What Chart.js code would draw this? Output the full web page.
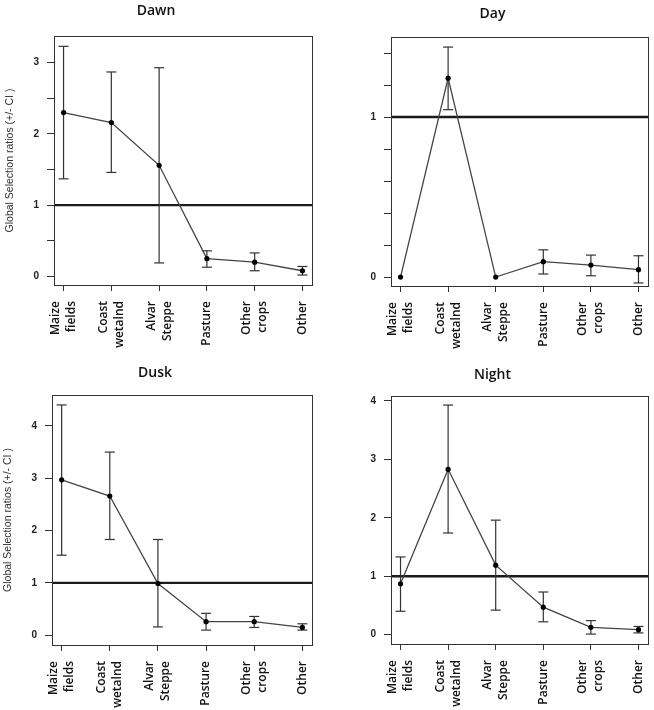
<!DOCTYPE html>
<html>
<head>
<meta charset="utf-8">
<script src="https://cdn.jsdelivr.net/npm/chart.js"></script>
<style>
  html, body { margin: 0; padding: 0; background: #fff; overflow: hidden; }
  body { width: 654px; height: 710px; position: relative; }
  canvas { position: absolute; }
</style>
</head>
<body>
<canvas id="dawn"></canvas>
<canvas id="day"></canvas>
<canvas id="dusk"></canvas>
<canvas id="night"></canvas>
<script>
// habitat categories (two-line labels as in the figure)
const categories = [["Maize", "fields"], ["Coast", "wetalnd"], ["Alvar", "Steppe"], ["Pasture"], ["Other", "crops"], ["Other"]];

// selection ratios and CI bounds
const dawnMean = [2.30, 2.16, 1.56, 0.25, 0.20, 0.08];
const dawnLow  = [1.37, 1.46, 0.19, 0.13, 0.08, 0.02];
const dawnHigh = [3.23, 2.87, 2.93, 0.36, 0.33, 0.14];

const dayMean = [0, 1.243, 0, 0.096, 0.075, 0.046];
const dayLow  = [null, 1.046, null, 0.019, 0.008, -0.037];
const dayHigh = [null, 1.437, null, 0.170, 0.137, 0.133];

const duskMean = [2.97, 2.66, 0.99, 0.26, 0.26, 0.15];
const duskLow  = [1.53, 1.83, 0.16, 0.10, 0.15, 0.10];
const duskHigh = [4.40, 3.50, 1.83, 0.42, 0.36, 0.22];

const nightMean = [0.87, 2.83, 1.19, 0.47, 0.125, 0.085];
const nightLow  = [0.40, 1.74, 0.42, 0.22, 0.01, 0.03];
const nightHigh = [1.33, 3.93, 1.96, 0.73, 0.24, 0.14];

// y tick positions (labels only on whole numbers)
const dawnTicks  = [0, 0.5, 1, 1.5, 2, 2.5, 3];
const dayTicks   = [0, 0.2, 0.4, 0.6, 0.8, 1, 1.2, 1.4];
const duskTicks  = [0, 1, 2, 3, 4];
const nightTicks = [0, 1, 2, 3, 4];

const refValue = 1;
const yTitle = "Global Selection ratios (+/- CI )";
const xMin = -0.2, xMax = 5.2;

function errorBarPoints(low, high) {
    let pts = [];
    low.forEach((lo, i) => {
        if (lo === null) return;
        pts.push({ x: i, y: lo }, { x: i, y: high[i] }, { x: i, y: null });
    });
    return pts;
}

// box around plot + rotated category labels
const framePlugin = {
    id: "frame",
    afterDatasetsDraw(chart) {
        const { ctx, chartArea: a } = chart;
        ctx.save();
        ctx.strokeStyle = "#333";
        ctx.lineWidth = 1;
        ctx.strokeRect(Math.round(a.left) + 0.5, Math.round(a.top) + 0.5,
            Math.round(a.right - a.left), Math.round(a.bottom - a.top));
        ctx.restore();
    },
    afterDraw(chart) {
        const ctx = chart.ctx;
        const xs = chart.scales.x;
        const lh = 16;
        ctx.save();
        ctx.font = "600 12px 'Open Sans'";
        ctx.fillStyle = "#111";
        ctx.textAlign = "right";
        ctx.textBaseline = "middle";
        categories.forEach((lines, i) => {
            const px = xs.getPixelForValue(i);
            lines.forEach((txt, j) => {
                const cx = px + (j - (lines.length - 1) / 2) * lh;
                ctx.save();
                ctx.translate(cx, xs.top + 16);
                ctx.rotate(-Math.PI / 2);
                ctx.fillText(txt, 0, 0);
                ctx.restore();
            });
        });
        ctx.restore();
    }
};

function makePanel(id, p) {
    let canvas = document.getElementById(id);
    canvas.width = p.width;
    canvas.height = 355;
    canvas.style.left = p.left + "px";
    canvas.style.top = p.top + "px";

    new Chart(canvas.getContext("2d"), {
        type: "line",
        data: {
            datasets: [
                {
                    data: p.mean.map((v, i) => ({ x: i, y: v })),
                    borderColor: "#444",
                    borderWidth: 1.3,
                    pointRadius: 2.6,
                    pointBackgroundColor: "#000",
                    pointBorderColor: "#000",
                    pointBorderWidth: 0,
                    order: 0
                },
                {
                    data: errorBarPoints(p.low, p.high),
                    borderColor: "#333",
                    borderWidth: 1.2,
                    pointStyle: "line",
                    pointRadius: 5,
                    pointBorderColor: "#333",
                    pointBorderWidth: 1.2,
                    spanGaps: false,
                    order: 1
                },
                {
                    data: [{ x: xMin, y: refValue }, { x: xMax, y: refValue }],
                    borderColor: "#1a1a1a",
                    borderWidth: 2.3,
                    pointRadius: 0,
                    order: 2
                }
            ]
        },
        options: {
            responsive: false,
            animation: false,
            events: [],
            layout: { padding: { left: 0, right: p.padRight, top: 0, bottom: 0 } },
            plugins: {
                legend: { display: false },
                tooltip: { enabled: false },
                title: {
                    display: true,
                    text: p.title,
                    color: "#111",
                    font: { family: "'Open Sans'", size: 14, weight: "600", lineHeight: 1.2 },
                    padding: { top: p.titleTop, bottom: p.titleBottom }
                }
            },
            scales: {
                x: {
                    type: "linear",
                    min: xMin,
                    max: xMax,
                    afterBuildTicks: axis => { axis.ticks = categories.map((c, i) => ({ value: i })); },
                    afterFit: axis => { axis.height = p.xHeight; },
                    ticks: { display: false },
                    border: { display: false },
                    grid: { drawOnChartArea: false, drawTicks: true, tickLength: 6, color: "#333" }
                },
                y: {
                    min: p.yMin,
                    max: p.yMax,
                    afterBuildTicks: axis => { axis.ticks = p.ticks.map(v => ({ value: v })); },
                    afterFit: axis => { axis.width = 54; },
                    ticks: {
                        autoSkip: false,
                        padding: 8,
                        color: "#222",
                        font: { family: "'Liberation Sans'", size: 10, weight: "bold" },
                        callback: v => Number.isInteger(v) ? String(v) : ""
                    },
                    border: { display: false },
                    grid: { drawOnChartArea: false, drawTicks: true, tickLength: 7, color: "#333" },
                    title: {
                        display: p.showYTitle,
                        text: yTitle,
                        color: "#333",
                        font: { family: "'Liberation Sans'", size: 10.5, lineHeight: 1.2 },
                        padding: { top: 4, bottom: 0 }
                    }
                }
            }
        },
        plugins: [framePlugin]
    });
}

makePanel("dawn", { title: "Dawn", mean: dawnMean, low: dawnLow, high: dawnHigh, ticks: dawnTicks,
    yMin: -0.12, yMax: 3.375, showYTitle: true, left: 0, top: 0, width: 350, padRight: 38,
    titleTop: 2.6, titleBottom: 16.6, xHeight: 70 });

makePanel("day", { title: "Day", mean: dayMean, low: dayLow, high: dayHigh, ticks: dayTicks,
    yMin: -0.056, yMax: 1.5, showYTitle: false, left: 337, top: 0, width: 344, padRight: 33,
    titleTop: 5.6, titleBottom: 14.6, xHeight: 69 });

makePanel("dusk", { title: "Dusk", mean: duskMean, low: duskLow, high: duskHigh, ticks: duskTicks,
    yMin: -0.185, yMax: 4.59, showYTitle: true, left: -2, top: 355, width: 350, padRight: 36,
    titleTop: 9.6, titleBottom: 13.6, xHeight: 65 });

makePanel("night", { title: "Night", mean: nightMean, low: nightLow, high: nightHigh, ticks: nightTicks,
    yMin: -0.16, yMax: 4.085, showYTitle: false, left: 337, top: 355, width: 350, padRight: 39,
    titleTop: 11.6, titleBottom: 12.6, xHeight: 66 });
</script>
</body>
</html>
